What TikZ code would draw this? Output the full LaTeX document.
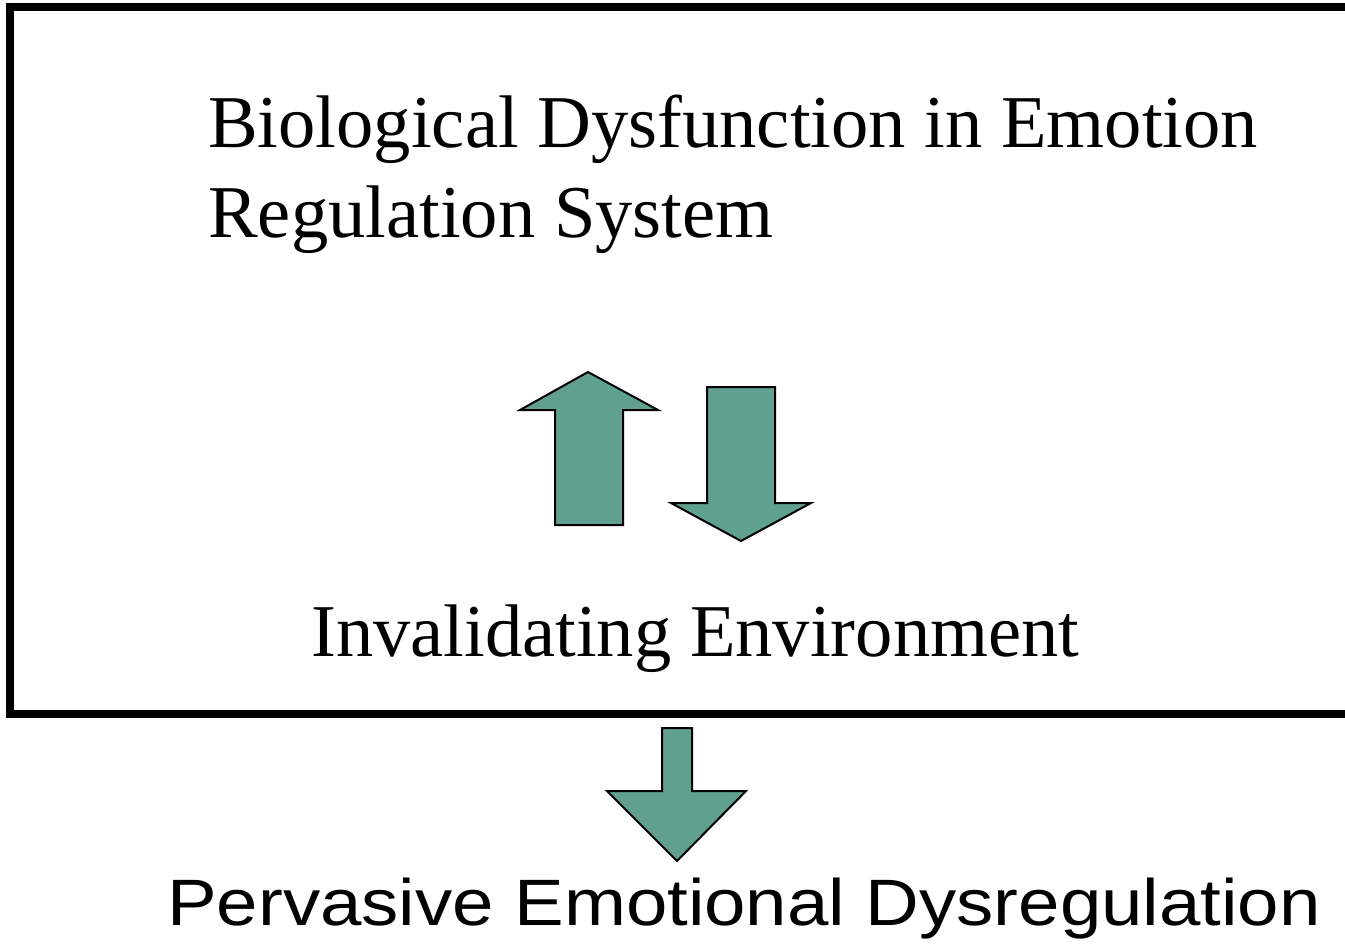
\documentclass[tikz,border=0pt]{standalone}
\usepackage{fontspec}
\setmainfont{Liberation Serif}
\setsansfont{Liberation Sans}
\definecolor{arrowgreen}{RGB}{96,160,143}
\begin{document}
\begin{tikzpicture}[x=0.75pt,y=-0.75pt,
  fatarrow/.style={fill=arrowgreen,draw=black,line width=1.5pt,line join=miter},
  serifline/.style={anchor=base west,inner sep=0pt,font=\fontsize{55.9pt}{67pt}\selectfont},
  sansline/.style={anchor=base west,inner sep=0pt,font=\sffamily\fontsize{49.2pt}{58pt}\selectfont}]
\useasboundingbox (0,0) rectangle (1345,945);
\clip (0,0) rectangle (1345,945);
% frame, open on the right
\draw[line width=6pt] (1360,7.5) -- (9.5,7.5) -- (9.5,714) -- (1360,714);
% texts
\node[serifline] (bio1) at (208,148) {Biological Dysfunction in Emotion};
\node[serifline] (bio2) at (208,237) {Regulation System};
\node[serifline] (env) at (311,656) {Invalidating Environment};
\node[sansline] (ped) at (167,925) {\scalebox{1.134}[1]{Pervasive Emotional Dysregulation}};
% up arrow
\draw[fatarrow] (555,525) -- (555,410) -- (520,410) -- (588,372) -- (658,410) -- (623,410) -- (623,525) -- cycle;
% down arrow
\draw[fatarrow] (707,387) -- (775,387) -- (775,503) -- (811,503) -- (741,541) -- (671,503) -- (707,503) -- cycle;
% outcome arrow
\draw[fatarrow] (662,728) -- (692,728) -- (692,791) -- (746,791) -- (677,861) -- (607,791) -- (662,791) -- cycle;
\end{tikzpicture}
\end{document}
